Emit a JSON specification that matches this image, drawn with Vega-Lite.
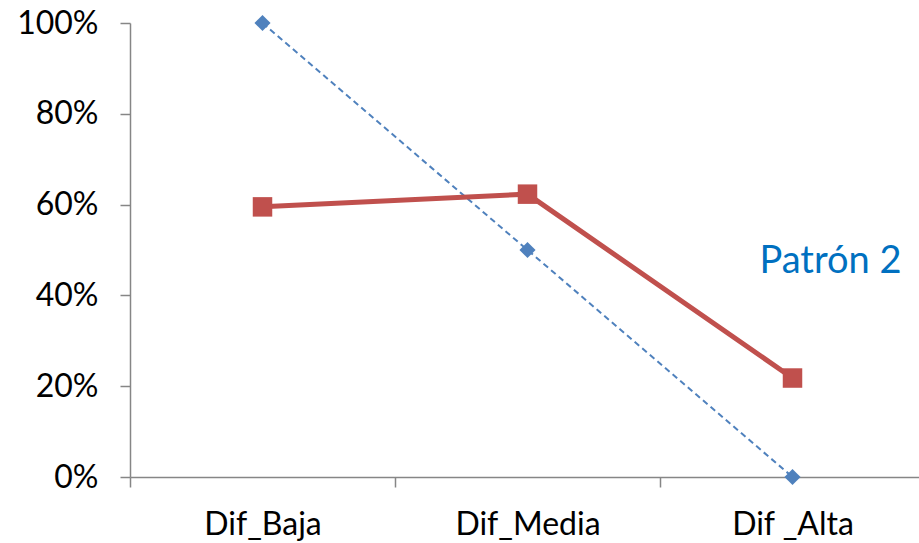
{
  "$schema": "https://vega.github.io/schema/vega-lite/v6.json",
  "width": 795,
  "height": 454,
  "autosize": {"type": "none"},
  "padding": {"left": 130, "top": 23, "right": 0, "bottom": 66},
  "background": "white",
  "config": {"view": {"stroke": null}, "font": "Lato"},
  "datasets": {
    "series": [
      {"cat": "Dif_Baja", "serie": "Patrón", "val": 1.0},
      {"cat": "Dif_Media", "serie": "Patrón", "val": 0.5},
      {"cat": "Dif _Alta", "serie": "Patrón", "val": 0.0},
      {"cat": "Dif_Baja", "serie": "Grupo", "val": 0.595},
      {"cat": "Dif_Media", "serie": "Grupo", "val": 0.623},
      {"cat": "Dif _Alta", "serie": "Grupo", "val": 0.218}
    ],
    "note": [{"cat": "Dif _Alta", "val": 0.449, "label": "Patrón 2"}]
  },
  "encoding": {
    "x": {
      "field": "cat", "type": "nominal", "sort": null,
      "scale": {"domain": ["Dif_Baja", "Dif_Media", "Dif _Alta"], "paddingInner": 0, "paddingOuter": 0},
      "axis": {
        "title": null, "labelAngle": 0, "labelFont": "Lato", "labelFontSize": 32, "labelColor": "#000000",
        "labelPadding": 22, "tickSize": 10, "tickBand": "extent", "domainColor": "#868686", "tickColor": "#868686",
        "domainWidth": 1.5, "tickWidth": 1.5, "grid": false
      }
    },
    "y": {
      "field": "val", "type": "quantitative",
      "scale": {"domain": [0, 1], "nice": false, "zero": true},
      "axis": {
        "title": null, "format": ".0%", "values": [0, 0.2, 0.4, 0.6, 0.8, 1.0],
        "labelFont": "Lato", "labelFontSize": 32, "labelColor": "#000000", "labelPadding": 22,
        "tickSize": 10, "domainColor": "#868686", "tickColor": "#868686",
        "domainWidth": 1.5, "tickWidth": 1.5, "grid": false
      }
    }
  },
  "layer": [
    {
      "data": {"name": "series"},
      "transform": [{"filter": "datum.serie == 'Patrón'"}],
      "mark": {"type": "line", "color": "#4F81BD", "strokeWidth": 2, "strokeDash": [6, 4], "point": {"shape": "diamond", "size": 260, "filled": true, "color": "#4F81BD", "opacity": 1}}
    },
    {
      "data": {"name": "series"},
      "transform": [{"filter": "datum.serie == 'Grupo'"}],
      "mark": {"type": "line", "color": "#C0504D", "strokeWidth": 5, "point": {"shape": "square", "size": 380, "filled": true, "color": "#C0504D", "opacity": 1}}
    },
    {
      "data": {"name": "note"},
      "mark": {"type": "text", "color": "#0070C0", "fontSize": 38, "font": "Lato", "align": "center", "baseline": "alphabetic", "dx": 38},
      "encoding": {"text": {"field": "label"}}
    }
  ]
}
